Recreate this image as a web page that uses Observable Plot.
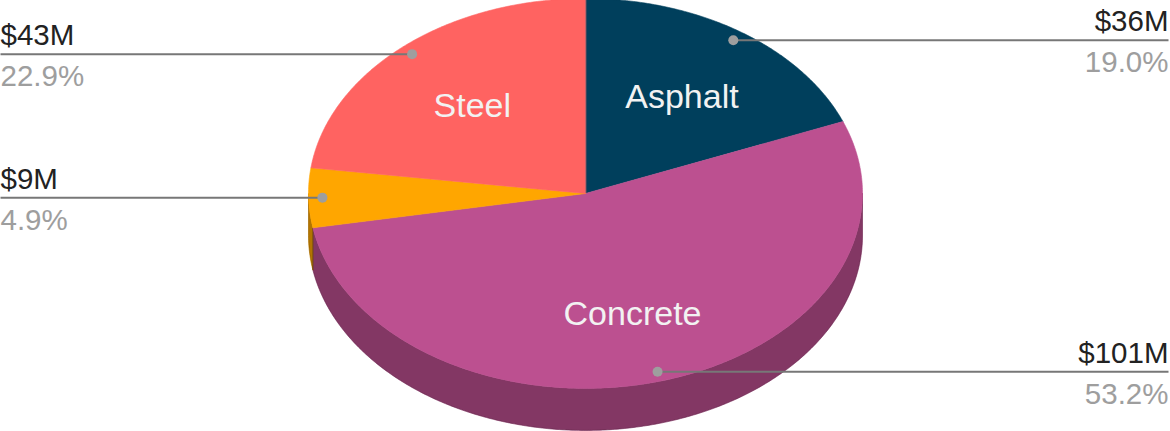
<!DOCTYPE html>
<html><head><meta charset="utf-8">
<script src="https://cdn.jsdelivr.net/npm/d3@7"></script>
<script src="https://cdn.jsdelivr.net/npm/@observablehq/plot@0.6"></script>
<style>body{margin:0;background:#fff} svg{display:block}</style>
</head><body><div id="chart"></div>
<script>
// ---- data ----
const categories = ["Asphalt", "Concrete", "Other", "Steel"];
const values = [35.9, 100.6, 9.3, 43.3];
const colors = ["#003f5c", "#bc5090", "#ffa600", "#ff6361"];

// ---- layout ----
const W = 1170, H = 431;
const CX = 585, CY = 193, RX = 277, RY = 195;
const DEPTH = 0.215;        // side thickness in radius units
const LABEL_R = 0.62;       // slice label radius fraction
const DOT_R = 0.95;         // leader dot radius fraction
const STEP = Math.PI / 360;

const total = d3.sum(values);
const arcs = d3.pie().sort(null).value(d => d)(values);

const rows = arcs.map((a, i) => ({
  category: categories[i],
  value: values[i],
  pct: values[i] / total * 100,
  a0: a.startAngle, a1: a.endAngle,
  mid: (a.startAngle + a.endAngle) / 2
}));

function arcPts(a0, a1) {
  const n = Math.max(2, Math.ceil((a1 - a0) / STEP));
  return d3.range(n + 1).map(k => a0 + (a1 - a0) * k / n);
}

// top faces
const tops = rows.flatMap(r => [
  {category: r.category, x: 0, y: 0},
  ...arcPts(r.a0, r.a1).map(t => ({category: r.category, x: Math.sin(t), y: Math.cos(t)}))
]);

// visible sides (front half: angles between PI/2 and 3PI/2)
const sides = rows.flatMap(r => {
  const s0 = Math.max(r.a0, Math.PI / 2), s1 = Math.min(r.a1, 3 * Math.PI / 2);
  if (s1 <= s0) return [];
  const pts = arcPts(s0, s1);
  return [
    ...pts.map(t => ({category: r.category, x: Math.sin(t), y: Math.cos(t)})),
    ...pts.slice().reverse().map(t => ({category: r.category, x: Math.sin(t), y: Math.cos(t) - DEPTH}))
  ];
});

const xLeft = -CX / RX, xRight = (W - 2 - CX) / RX;
const leaders = rows.map(r => {
  const dx = DOT_R * Math.sin(r.mid), dy = DOT_R * Math.cos(r.mid);
  const right = Math.sin(r.mid) >= 0;
  return {
    ...r, dx, dy, right,
    ex: right ? xRight : xLeft,
    valueLabel: "$" + Math.round(r.value) + "M",
    pctLabel: r.pct.toFixed(1) + "%"
  };
});
const leftL = leaders.filter(d => !d.right);
const rightL = leaders.filter(d => d.right);
const sliceLabels = rows.filter(r => r.pct >= 10).map(r => ({
  label: r.category,
  x: LABEL_R * Math.sin(r.mid),
  y: LABEL_R * Math.cos(r.mid)
}));

const font = "'Liberation Sans', Arial, sans-serif";
const labelMarks = (data, anchor) => [
  Plot.text(data, {x: "ex", y: "dy", text: "valueLabel", textAnchor: anchor,
    lineAnchor: "bottom", dy: -9, fill: "#222", fontSize: 29.5, fontFamily: font}),
  Plot.text(data, {x: "ex", y: "dy", text: "pctLabel", textAnchor: anchor,
    lineAnchor: "bottom", dy: 32, fill: "#9e9e9e", fontSize: 29.5, fontFamily: font})
];

const chart = Plot.plot({
  width: W, height: H,
  margin: 0,
  style: {background: "#fff", fontFamily: font},
  x: {domain: [-CX / RX, (W - CX) / RX], range: [0, W], axis: null},
  y: {domain: [-(H - CY) / RY, CY / RY], range: [H, 0], axis: null},
  color: {domain: categories, range: colors},
  marks: [
    Plot.line(sides, {x: "x", y: "y", z: "category", fill: "category", stroke: "category", strokeWidth: 0.6, curve: "linear-closed"}),
    Plot.line(sides, {x: "x", y: "y", z: "category", fill: "black", fillOpacity: 0.3, stroke: "black", strokeOpacity: 0.3, strokeWidth: 0.6, curve: "linear-closed"}),
    Plot.line(tops, {x: "x", y: "y", z: "category", fill: "category", stroke: "category", strokeWidth: 0.6, curve: "linear-closed"}),
    Plot.text(sliceLabels, {x: "x", y: "y", text: "label", fill: "#f2f2f2", fontSize: 34, dy: 4, fontFamily: font}),
    Plot.link(leaders, {x1: "dx", y1: "dy", x2: "ex", y2: "dy", stroke: "#777", strokeWidth: 2}),
    Plot.dot(leaders, {x: "dx", y: "dy", r: 5, fill: "#9e9e9e", stroke: null}),
    ...labelMarks(leftL, "start"),
    ...labelMarks(rightL, "end")
  ]
});
document.getElementById("chart").append(chart);
</script>
</body></html>
